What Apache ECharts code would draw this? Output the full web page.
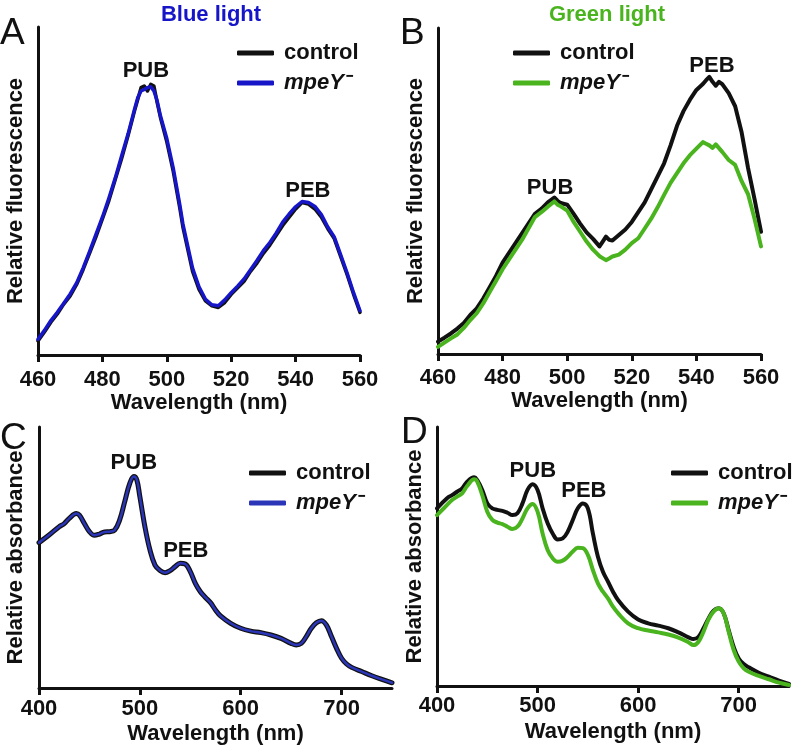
<!DOCTYPE html>
<html>
<head>
<meta charset="utf-8">
<script src="https://cdn.jsdelivr.net/npm/echarts@6/dist/echarts.min.js"></script>
<style>
html,body{margin:0;padding:0;background:#fff;}
#chart{width:793px;height:754px;}
</style>
</head>
<body>
<div id="chart"></div>
<script>
// ---------- Data ----------
var seriesNames = ['control', 'mpeY-'];
var fluorTicks = [460, 480, 500, 520, 540, 560];
var absTicks = [400, 500, 600, 700];

// Panel A: fluorescence, blue light
var aControl = [[460,4.3],[462,7],[464,10],[466,12.5],[468,15.5],[470,18],[472,21.5],[474,26],[476,31],[478,36],[480,41.5],[482,47],[484,53.5],[486,60],[488,67],[490,74.5],[491,78],[492,81.5],[493,82],[494,80.5],[495,82.5],[496,82],[497,77],[498,72.5],[500,65],[502,56],[504,45],[505,39],[507,30],[508,25.5],[510,20],[512,16.5],[514,15],[516,14.5],[518,16],[520,18.5],[522,20.5],[524,22.5],[526,25.5],[528,28],[530,31],[532,33.5],[534,36.5],[536,39.5],[538,42],[540,44.5],[542,46.5],[544,46],[546,44.5],[548,42],[550,38.5],[552,35.5],[554,30],[556,24.5],[558,18.5],[560,13]];
var aMpeY = [[460,4.8],[462,7.5],[464,10.5],[466,13],[468,15.8],[470,18.6],[472,22],[474,26.5],[476,31.5],[478,36.8],[480,42],[482,47.8],[484,54],[486,60.8],[488,67.5],[490,75],[491,78.5],[492,80.5],[493,81],[494,81.5],[495,81.8],[496,80.5],[497,77.5],[498,73],[500,66],[502,57],[504,46],[505,40],[507,31],[508,26.5],[510,20.8],[512,17],[514,15.3],[516,15],[518,16.8],[520,19],[522,21],[524,23.2],[526,26],[528,28.8],[530,31.8],[532,34.3],[534,37.2],[536,40.5],[538,43],[540,45.2],[542,46.8],[544,46.5],[546,45.3],[548,42.8],[550,39],[552,36],[554,30.5],[556,25],[558,19],[560,13.5]];

// Panel B: fluorescence, green light
var bControl = [[460,3.8],[462,5],[464,6.3],[466,7.8],[468,9.5],[470,12],[472,14],[474,17],[476,20.5],[478,24],[480,28],[482,31],[484,34],[486,37],[488,40],[490,43],[492,44.5],[494,46.5],[496,48],[497,47],[498,46.3],[500,45.8],[502,43],[504,40],[506,37.3],[508,35.3],[510,33],[511,34.5],[512,36],[513,35],[514,34.8],[516,36.5],[518,38.2],[520,40.5],[522,43.5],[524,46.5],[526,50.5],[528,54.5],[530,58.5],[532,64],[534,70],[536,74.5],[538,78],[540,81],[542,82.8],[543,84],[544,85],[545,83.5],[546,82.3],[547,83.5],[548,82.8],[550,80],[552,76],[554,68],[556,57],[558,47.5],[560,37.5]];
var bMpeY = [[460,2.2],[462,3.5],[464,4.8],[466,6],[468,8],[470,10.4],[472,12.5],[474,15.5],[476,19],[478,22.5],[480,26],[482,29],[484,32],[486,35],[488,38.5],[490,42],[492,43.5],[494,45.2],[496,46.8],[497,45.8],[498,45.3],[500,44],[502,40.5],[504,37.5],[506,34.5],[508,32],[510,30],[512,28.8],[513,29.3],[514,29.9],[516,30.5],[518,32],[520,34],[522,35.5],[524,38.5],[526,41.5],[528,45],[530,48.8],[532,52.5],[534,55.5],[536,58.5],[538,61],[540,63],[542,65],[543,64.5],[544,64],[545,63.2],[546,64.3],[548,62],[550,59.5],[552,58],[554,53],[556,49],[558,41.5],[560,33]];

// Panel C: absorbance, blue light
var cControl = [[400,55.7],[410,58.6],[420,61.8],[425,63],[430,65],[437,66.9],[440,66.3],[445,63],[450,59.9],[455,58.5],[460,59],[465,59.8],[470,59.9],[475,60.5],[480,64.4],[485,71.4],[490,78.4],[494,81],[497,79.7],[500,73.3],[505,61.8],[510,52.9],[515,47.1],[520,45],[525,44.2],[530,45],[535,46.5],[540,47.8],[545,47.5],[550,44.6],[555,40.1],[560,36.9],[565,34.7],[570,32.7],[575,29.9],[580,27.6],[590,24.8],[600,22.9],[610,21.8],[620,21.2],[630,20.3],[640,19],[650,17.1],[655,16.5],[660,17.1],[665,19.7],[670,22.9],[675,25],[680,25.8],[685,24.1],[690,19.7],[695,15.2],[700,11.4],[705,9.2],[710,7.9],[720,6.3],[730,4.7],[740,3.3],[750,2]];
var cMpeY = [[400,55.7],[410,58.6],[420,61.8],[425,63],[430,65],[437,66.9],[440,66.3],[445,63],[450,59.9],[455,58.5],[460,59],[465,59.8],[470,59.9],[475,60.5],[480,64.4],[485,71.4],[490,78.4],[494,81],[497,79.7],[500,73.3],[505,61.8],[510,52.9],[515,47.1],[520,45],[525,44.2],[530,45],[535,46.5],[540,47.8],[545,47.5],[550,44.6],[555,40.1],[560,36.9],[565,34.7],[570,32.7],[575,29.9],[580,27.6],[590,24.8],[600,22.9],[610,21.8],[620,21.2],[630,20.3],[640,19],[650,17.1],[655,16.5],[660,17.1],[665,19.7],[670,22.9],[675,25],[680,25.8],[685,24.1],[690,19.7],[695,15.2],[700,11.4],[705,9.2],[710,7.9],[720,6.3],[730,4.7],[740,3.3],[750,2]];

// Panel D: absorbance, green light
var dControl = [[400,68.6],[410,72.5],[415,73.7],[420,75],[425,76.3],[430,78.9],[437,80.6],[440,79.5],[445,75.7],[450,70.5],[455,68.6],[460,68],[465,67.6],[470,66.9],[475,66],[480,66.7],[485,70.5],[490,75.7],[495,77.9],[500,75.7],[505,68.6],[510,62.8],[515,58.9],[520,56.6],[525,57],[530,59.6],[535,64.1],[540,68.6],[545,70.5],[550,68.6],[555,58.9],[560,49.9],[565,44.1],[570,40.3],[575,36.4],[580,33.2],[590,28.7],[600,25.7],[610,24.2],[620,23.3],[630,22.3],[640,20.7],[650,18.8],[655,18.1],[660,19],[665,22.3],[670,26.1],[675,29.1],[680,30],[685,28.1],[690,21.6],[695,15.1],[700,10.6],[705,8.5],[710,7.2],[720,5.1],[730,3.6],[740,2.1],[750,0.8]];
var dMpeY = [[400,66],[410,69.9],[415,71.8],[420,73.1],[425,74.4],[430,77.2],[437,79.8],[440,78.9],[445,73.7],[450,67.3],[455,64.1],[460,63.1],[465,62.5],[470,61.5],[475,60.6],[480,61.5],[485,64.7],[490,68.6],[495,70.3],[500,67.3],[505,58.9],[510,52.5],[515,49.3],[520,48],[525,48.4],[530,49.9],[535,51.9],[540,53.4],[545,53.2],[550,50.6],[555,44.8],[560,39.6],[565,36.4],[570,33.8],[575,30.6],[580,28.1],[590,24.2],[600,22.3],[610,21.4],[620,20.7],[630,19.9],[640,18.7],[650,16.9],[655,15.8],[660,17.1],[665,21],[670,25.7],[675,28.7],[680,30],[685,28.1],[690,21],[695,13.9],[700,9.4],[705,6.8],[710,5.5],[720,3.9],[730,2.6],[740,1.3],[750,0.4]];

// Peak annotations: [label, wavelength, value]
var aPeaks = [['PUB', 493.5, 86.6], ['PEB', 543.8, 50]];
var bPeaks = [['PUB', 494.7, 50.9], ['PEB', 544.8, 88.3]];
var cPeaks = [['PUB', 494, 86.2], ['PEB', 545.5, 52.5]];
var dPeaks = [['PUB', 495.3, 83], ['PEB', 546, 75.3]];

// ---------- Styles ----------
var FONT = 'Liberation Sans, Arial, Helvetica, sans-serif';
var INK = '#111111';
var BLUE = '#1616c8';
var GREEN = '#4ab41e';

var chart = echarts.init(document.getElementById('chart'), null, {renderer: 'canvas'});

function xAxisDef(gi, min, max, interval, ticks, margin) {
  return {
    type: 'value', gridIndex: gi, min: min, max: max, interval: interval,
    name: 'Wavelength (nm)', nameLocation: 'middle', nameGap: 35,
    nameTextStyle: {fontFamily: FONT, fontSize: 22, fontWeight: 'bold', color: INK},
    axisLine: {show: true, lineStyle: {color: INK, width: 3}},
    axisTick: {show: true, length: 7, lineStyle: {color: INK, width: 3}, customValues: ticks},
    axisLabel: {fontFamily: FONT, fontSize: 22, fontWeight: 'bold', color: INK, margin: margin, customValues: ticks},
    splitLine: {show: false}
  };
}
function yAxisDef(gi, name, gap) {
  return {
    type: 'value', gridIndex: gi, min: 0, max: 100,
    name: name, nameLocation: 'middle', nameGap: gap,
    nameTextStyle: {fontFamily: FONT, fontSize: 22, fontWeight: 'bold', color: INK},
    axisLine: {show: true, lineStyle: {color: INK, width: 3}},
    axisTick: {show: false}, axisLabel: {show: false}, splitLine: {show: false}
  };
}
function peakMarks(peaks) {
  return {
    silent: true, animation: false,
    symbol: 'circle', symbolSize: 1,
    itemStyle: {color: 'rgba(0,0,0,0)'},
    label: {show: true, position: 'inside', fontFamily: FONT, fontSize: 22, fontWeight: 'bold', color: INK,
      formatter: function (p) { return p.name; }},
    data: peaks.map(function (p) { return {name: p[0], coord: [p[1], p[2]]}; })
  };
}
function lineSeries(id, gi, data, color, width, smooth, z, peaks) {
  var s = {
    type: 'line', name: id, xAxisIndex: gi, yAxisIndex: gi, data: data,
    showSymbol: false, symbol: 'none', smooth: smooth, color: color, z: z,
    lineStyle: {color: color, width: width, cap: 'round', join: 'round'}
  };
  if (peaks) s.markPoint = peakMarks(peaks);
  return s;
}
function legendDef(left, top, ids) {
  return {
    left: left, top: top, orient: 'vertical', itemWidth: 37, itemHeight: 5, itemGap: 8,
    padding: 0, width: 160,
    icon: 'roundRect', selectedMode: false, data: ids,
    formatter: function (name) {
      return name.indexOf('mpeY') >= 0 ? '{i|mpeY}{s|\u207B}' : '{b|control}';
    },
    textStyle: {
      fontFamily: FONT, fontSize: 22, fontWeight: 'bold', color: INK, lineHeight: 22,
      padding: [0, 0, 0, 5], overflow: 'none', width: 120,
      rich: {
        b: {fontFamily: FONT, fontSize: 22, fontWeight: 'bold', color: INK, lineHeight: 22},
        i: {fontFamily: FONT, fontSize: 22, fontWeight: 'bold', fontStyle: 'italic', color: INK, lineHeight: 22},
        s: {fontFamily: FONT, fontSize: 22, fontWeight: 'bold', color: INK, lineHeight: 22, padding: [0, 0, 0, 2]}
      }
    }
  };
}

var option = {
  animation: false,
  backgroundColor: '#ffffff',
  title: [
    {text: 'Blue light', left: 211, top: 4, padding: 0, textAlign: 'center',
      textStyle: {fontFamily: FONT, fontSize: 22, fontWeight: 'bold', color: BLUE}},
    {text: 'Green light', left: 607, top: 4, padding: 0, textAlign: 'center',
      textStyle: {fontFamily: FONT, fontSize: 22, fontWeight: 'bold', color: GREEN}}
  ],
  graphic: [
    {type: 'text', left: 0, top: 15, style: {text: 'A', fontFamily: FONT, fontSize: 37, fill: INK}},
    {type: 'text', left: 400, top: 15, style: {text: 'B', fontFamily: FONT, fontSize: 37, fill: INK}},
    {type: 'text', left: 0, top: 420, style: {text: 'C', fontFamily: FONT, fontSize: 37, fill: INK}},
    {type: 'text', left: 401, top: 414, style: {text: 'D', fontFamily: FONT, fontSize: 37, fill: INK}}
  ],
  legend: [
    legendDef(237, 42, ['A_control', 'A_mpeY']),
    legendDef(513, 42, ['B_control', 'B_mpeY']),
    legendDef(249, 462, ['C_control', 'C_mpeY']),
    legendDef(671, 462, ['D_control', 'D_mpeY'])
  ],
  grid: [
    {left: 38, top: 27, width: 322, height: 328},
    {left: 438, top: 28, width: 323, height: 326},
    {left: 39, top: 427, width: 353, height: 261},
    {left: 437, top: 427, width: 352, height: 259}
  ],
  xAxis: [
    xAxisDef(0, 460, 560, 20, fluorTicks, 14),
    xAxisDef(1, 460, 560, 20, fluorTicks, 13),
    xAxisDef(2, 400, 750, 100, absTicks, 10),
    xAxisDef(3, 400, 750, 100, absTicks, 9)
  ],
  yAxis: [
    yAxisDef(0, 'Relative fluorescence', 11),
    yAxisDef(1, 'Relative fluorescence', 11),
    yAxisDef(2, 'Relative absorbance', 12),
    yAxisDef(3, 'Relative absorbance', 11)
  ],
  series: [
    lineSeries('A_control', 0, aControl, INK, 3.5, false, 2, aPeaks),
    lineSeries('A_mpeY', 0, aMpeY, BLUE, 3.5, false, 3, null),
    lineSeries('B_control', 1, bControl, INK, 4, false, 2, bPeaks),
    lineSeries('B_mpeY', 1, bMpeY, GREEN, 4, false, 3, null),
    lineSeries('C_control', 2, cControl, INK, 5, 0.4, 2, cPeaks),
    lineSeries('C_mpeY', 2, cMpeY, '#2b35b8', 2.5, 0.4, 3, null),
    lineSeries('D_control', 3, dControl, INK, 4, 0.4, 2, dPeaks),
    lineSeries('D_mpeY', 3, dMpeY, GREEN, 4, 0.4, 3, null)
  ]
};
chart.setOption(option);
</script>
</body>
</html>
